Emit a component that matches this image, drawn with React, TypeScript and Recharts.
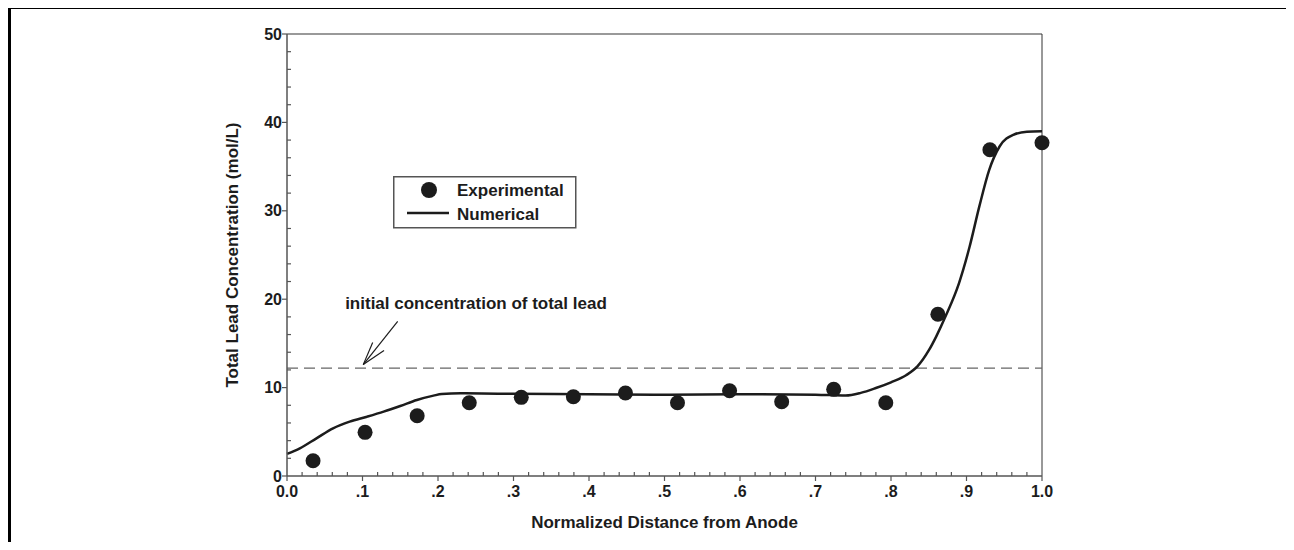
import {
  ComposedChart,
  Line,
  Scatter,
  XAxis,
  YAxis,
  ReferenceLine,
  ReferenceDot,
  Legend,
} from "recharts";

const FONT = '"Liberation Sans", Arial, sans-serif';
const INK = "#1c1c1c";
const AXIS = "#555";

// experimental points (normalized distance, mol/L)
const expX = [0.0345, 0.1034, 0.1724, 0.2414, 0.3103, 0.3793, 0.4483, 0.5172, 0.5862, 0.6552, 0.7241, 0.7931, 0.8621, 0.931, 1.0];
const expY = [1.73, 4.94, 6.82, 8.29, 8.9, 8.97, 9.39, 8.29, 9.65, 8.4, 9.8, 8.29, 18.3, 36.9, 37.7];

// numerical model curve
const numX = [0, 0.017, 0.039, 0.061, 0.083, 0.106, 0.128, 0.15, 0.172, 0.194, 0.205, 0.23, 0.3, 0.4, 0.5, 0.6, 0.7, 0.74, 0.76, 0.78, 0.8, 0.82, 0.835, 0.85, 0.86, 0.873, 0.89, 0.904, 0.917, 0.93, 0.944, 0.962, 0.98, 1.0];
const numY = [2.5, 3.13, 4.26, 5.39, 6.15, 6.71, 7.28, 7.92, 8.6, 9.09, 9.28, 9.35, 9.3, 9.25, 9.2, 9.25, 9.2, 9.1, 9.4, 9.95, 10.6, 11.4, 12.4, 14.2, 15.8, 18.2, 21.8, 25.9, 30.5, 34.6, 37.3, 38.6, 38.95, 39.0];

const initialLead = 12.2;

const xMajorLabels = ["0.0", ".1", ".2", ".3", ".4", ".5", ".6", ".7", ".8", ".9", "1.0"];
const yMajorLabels = ["0", "10", "20", "30", "40", "50"];
const xTicks = Array.from({ length: 51 }, (_, i) => i / 50);
const yTicks = Array.from({ length: 26 }, (_, i) => i * 2);

const seriesNames = ["Experimental", "Numerical"];
const annotation = "initial concentration of total lead";
// arrow pointing at the dashed line: shaft and two barbs
const arrowShaft = [{ x: 0.1466, y: 17.5 }, { x: 0.101, y: 12.6 }];
const arrowBarbA = [{ x: 0.1135, y: 15.1 }, { x: 0.101, y: 12.6 }];
const arrowBarbB = [{ x: 0.1285, y: 14.2 }, { x: 0.101, y: 12.6 }];

const expData = expX.map((x, i) => ({ x, y: expY[i] }));
const numData = numX.map((x, i) => ({ x, y: numY[i] }));

const textStyle = { fontFamily: FONT, fontWeight: "bold" as const, fill: INK };

function isMajor(v: number, step: number) {
  const r = v / step;
  return Math.abs(r - Math.round(r)) < 1e-6;
}

function XTick(props: any) {
  const { x, y, payload } = props;
  const v = payload.value;
  const major = isMajor(v, 0.1);
  return (
    <g>
      <line x1={x} x2={x} y1={y} y2={major ? y + 5 : y - 4} stroke={AXIS} strokeWidth={1.2} />
      {major && (
        <text x={x} y={y + 21} textAnchor="middle" fontSize={16} {...textStyle}>
          {xMajorLabels[Math.round(v * 10)]}
        </text>
      )}
    </g>
  );
}

function YTick(props: any) {
  const { x, y, payload } = props;
  const v = payload.value;
  const major = isMajor(v, 10);
  return (
    <g>
      <line x1={x} x2={major ? x - 5 : x + 4} y1={y} y2={y} stroke={AXIS} strokeWidth={1.2} />
      {major && (
        <text x={x - 5} y={y} textAnchor="end" dominantBaseline="central" fontSize={16} {...textStyle}>
          {yMajorLabels[Math.round(v / 10)]}
        </text>
      )}
    </g>
  );
}

function YTitle(props: any) {
  const { x, y, height } = props.viewBox;
  const cx = x + 5;
  const cy = y + height / 2;
  return (
    <text
      x={cx}
      y={cy}
      transform={`rotate(-90 ${cx} ${cy})`}
      textAnchor="middle"
      dominantBaseline="central"
      fontSize={17}
      {...textStyle}
    >
      Total Lead Concentration (mol/L)
    </text>
  );
}

function LegendBox() {
  return (
    <svg width={184} height={53} style={{ display: "block" }}>
      <rect x={0.75} y={0.75} width={182} height={51} fill="#fff" stroke={AXIS} strokeWidth={1.5} />
      <circle cx={36} cy={14} r={8} fill={INK} />
      <text x={64} y={19.5} fontSize={17} {...textStyle}>
        {seriesNames[0]}
      </text>
      <line x1={14} x2={56} y1={37} y2={37} stroke={INK} strokeWidth={2.5} />
      <text x={64} y={44} fontSize={17} {...textStyle}>
        {seriesNames[1]}
      </text>
    </svg>
  );
}

export default function App() {
  return (
    <div style={{ position: "relative", width: 1278, height: 534 }}>
      <div
        style={{
          position: "absolute",
          left: 0,
          top: -2,
          width: 1285,
          height: 544,
          borderTop: "3px solid #000",
          borderLeft: "3px solid #000",
          borderRight: "3px solid #000",
          boxSizing: "border-box",
        }}
      />
      <div style={{ position: "absolute", left: 0, top: 0 }}>
        <ComposedChart
          width={1280}
          height={542}
          margin={{ top: 26, right: 246, bottom: 22, left: 219 }}
        >
          <XAxis
            type="number"
            dataKey="x"
            domain={[0, 1]}
            ticks={xTicks}
            interval={0}
            tickSize={0}
            tickMargin={0}
            tickLine={false}
            tick={(p: any) => <XTick {...p} />}
            axisLine={{ stroke: AXIS, strokeWidth: 1.5 }}
            height={52}
            label={{
              value: "Normalized Distance from Anode",
              position: "insideBottom",
              offset: 0,
              fontSize: 17,
              ...textStyle,
            }}
          />
          <YAxis
            type="number"
            dataKey="y"
            domain={[0, 50]}
            ticks={yTicks}
            interval={0}
            tickSize={0}
            tickMargin={0}
            tickLine={false}
            tick={(p: any) => <YTick {...p} />}
            axisLine={{ stroke: AXIS, strokeWidth: 1.5 }}
            width={60}
            label={(p: any) => <YTitle {...p} />}
          />
          <ReferenceLine y={50} stroke="#777" strokeWidth={1.5} />
          <ReferenceLine x={1} stroke="#333" strokeWidth={1} />
          <ReferenceLine y={initialLead} stroke="#666" strokeWidth={1.4} strokeDasharray="11 6" />
          <ReferenceLine segment={arrowShaft} stroke={INK} strokeWidth={1.2} />
          <ReferenceLine segment={arrowBarbA} stroke={INK} strokeWidth={1.2} />
          <ReferenceLine segment={arrowBarbB} stroke={INK} strokeWidth={1.2} />
          <ReferenceDot
            x={0.2503}
            y={19.6}
            r={0}
            fill="none"
            stroke="none"
            label={{ value: annotation, position: "center", fontSize: 17, ...textStyle }}
          />
          <Line
            data={numData}
            dataKey="y"
            name={seriesNames[1]}
            type="monotone"
            stroke={INK}
            strokeWidth={2.5}
            dot={false}
            isAnimationActive={false}
          />
          <Scatter
            data={expData}
            dataKey="y"
            name={seriesNames[0]}
            fill={INK}
            shape={(p: any) => <circle cx={p.cx} cy={p.cy} r={7.5} fill={INK} />}
            isAnimationActive={false}
          />
          <Legend
            verticalAlign="middle"
            align="center"
            layout="horizontal"
            content={() => <LegendBox />}
            wrapperStyle={{ left: 385, top: 168, width: 184, height: 53 }}
          />
        </ComposedChart>
      </div>
    </div>
  );
}
